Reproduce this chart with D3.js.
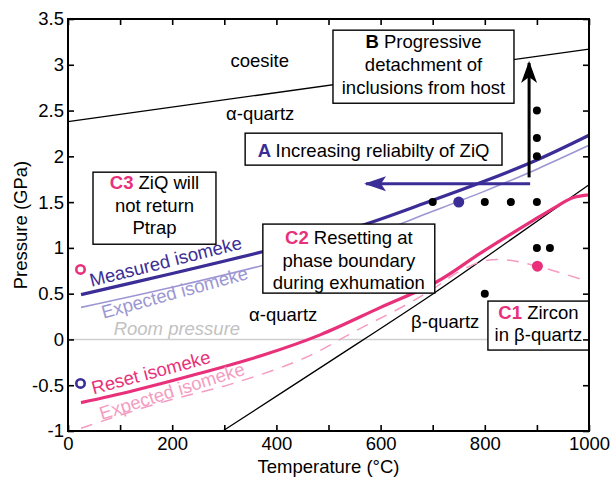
<!DOCTYPE html>
<html>
<head>
<meta charset="utf-8">
<script src="https://cdn.jsdelivr.net/npm/d3@7"></script>
<style>
  body { margin: 0; background: #fff; }
  svg { font-family: "Liberation Sans", Arial, Helvetica, sans-serif; }
</style>
</head>
<body>
<div id="chart"></div>
<script>
// phase boundaries
const coesiteT = [0, 1000];
const coesiteP = [2.38, 3.17];
const abQuartzT = [297, 500, 701, 850, 1000];
const abQuartzP = [-1, -0.25, 0.5, 1.09, 1.69];

// isomekes
const measuredT = [25, 200, 375, 550, 700, 800, 900, 1000];
const measuredP = [0.49, 0.72, 0.96, 1.22, 1.52, 1.73, 1.96, 2.23];
const expectedT = [25, 200, 375, 550, 700, 800, 900, 1000];
const expectedP = [0.35, 0.57, 0.81, 1.08, 1.40, 1.62, 1.86, 2.12];
const resetT = [25, 125, 253, 375, 484, 600, 708, 791, 893, 940, 970, 1000];
const resetP = [-0.69, -0.56, -0.37, -0.17, 0.05, 0.35, 0.63, 0.94, 1.30, 1.46, 1.55, 1.58];
const expResetT = [25, 177, 317, 455, 554, 643, 700, 750, 800, 840, 901, 1000];
const expResetP = [-0.97, -0.69, -0.48, -0.2, 0.10, 0.36, 0.55, 0.74, 0.86, 0.87, 0.80, 0.63];

// inclusion points
const dotT = [700, 800, 850, 900, 900, 900, 900, 900, 925, 800];
const dotP = [1.5, 1.5, 1.5, 1.5, 2.0, 2.2, 2.5, 1.0, 1.0, 0.5];

const xTicks = [0, 100, 200, 300, 400, 500, 600, 700, 800, 900, 1000];
const xLabels = [0, 200, 400, 600, 800, 1000];
const yTicks = [-1, -0.5, 0, 0.5, 1, 1.5, 2, 2.5, 3, 3.5];

const blue = "#3b2d96", lightBlue = "#9c97d3", pink = "#e8317a", lightPink = "#f49cc1";

const margin = {top: 19, right: 27, bottom: 46, left: 68},
      width = 616 - margin.left - margin.right,
      height = 477 - margin.top - margin.bottom;

const svg = d3.select("#chart").append("svg")
    .attr("width", 616)
    .attr("height", 477);

const g = svg.append("g")
    .attr("transform", "translate(" + margin.left + "," + margin.top + ")");

const x = d3.scaleLinear().domain([0, 1000]).range([0, width]);
const y = d3.scaleLinear().domain([-1, 3.5]).range([height, 0]);

const zip = (ts, ps) => ts.map((t, i) => [t, ps[i]]);
const line = d3.line().x(d => x(d[0])).y(d => y(d[1])).curve(d3.curveCatmullRom.alpha(0.5));

const defs = svg.append("defs");
defs.append("marker").attr("id", "headBlue")
    .attr("markerUnits", "userSpaceOnUse")
    .attr("viewBox", "-20 -8 22 16").attr("refX", 0).attr("refY", 0)
    .attr("markerWidth", 22).attr("markerHeight", 16).attr("orient", "auto")
  .append("path").attr("d", "M2,0 L-20,-7.5 L-15,0 L-20,7.5 Z").attr("fill", blue);
defs.append("marker").attr("id", "headBlack")
    .attr("markerUnits", "userSpaceOnUse")
    .attr("viewBox", "-20 -9 22 18").attr("refX", 0).attr("refY", 0)
    .attr("markerWidth", 22).attr("markerHeight", 18).attr("orient", "auto")
  .append("path").attr("d", "M2,0 L-20,-8 L-14,0 L-20,8 Z").attr("fill", "#000");

// room pressure
g.append("line")
    .attr("x1", x(0)).attr("x2", x(1000)).attr("y1", y(0)).attr("y2", y(0))
    .attr("stroke", "#cfcfcf").attr("stroke-width", 1.5);
g.append("text").attr("x", x(209)).attr("y", y(0) - 4)
    .attr("text-anchor", "middle").attr("font-style", "italic")
    .attr("font-size", 18.5).attr("fill", "#c2c2c2").text("Room pressure");

// phase boundaries
g.append("path").datum(zip(coesiteT, coesiteP)).attr("d", line)
    .attr("fill", "none").attr("stroke", "#000").attr("stroke-width", 1.3);
g.append("path").datum(zip(abQuartzT, abQuartzP)).attr("d", line)
    .attr("fill", "none").attr("stroke", "#000").attr("stroke-width", 1.3);

// isomekes
g.append("path").datum(zip(expResetT, expResetP)).attr("d", line)
    .attr("fill", "none").attr("stroke", lightPink).attr("stroke-width", 1.5)
    .attr("stroke-dasharray", "12,9");
g.append("path").datum(zip(expectedT, expectedP)).attr("d", line)
    .attr("fill", "none").attr("stroke", lightBlue).attr("stroke-width", 1.6);
g.append("path").datum(zip(measuredT, measuredP)).attr("d", line)
    .attr("fill", "none").attr("stroke", blue).attr("stroke-width", 3.2);
g.append("path").datum(zip(resetT, resetP)).attr("d", line)
    .attr("fill", "none").attr("stroke", pink).attr("stroke-width", 3.2);

// isomeke labels
const rotLabel = (t, p, ang, txt, col) => g.append("text")
    .attr("transform", "translate(" + x(t) + "," + y(p) + ") rotate(" + ang + ")")
    .attr("font-size", 18.5).attr("fill", col).text(txt);
rotLabel(45, 0.575, -14.2, "Measured isomeke", blue);
rotLabel(68, 0.225, -15.4, "Expected isomeke", lightBlue);
rotLabel(49, -0.6, -15, "Reset isomeke", pink);
rotLabel(65, -0.88, -17.6, "Expected isomeke", lightPink);

// arrows
g.append("line")
    .attr("x1", x(887)).attr("x2", x(572)).attr("y1", y(1.7)).attr("y2", y(1.7))
    .attr("stroke", blue).attr("stroke-width", 3).attr("marker-end", "url(#headBlue)");
g.append("line")
    .attr("x1", x(885)).attr("x2", x(885)).attr("y1", y(1.77)).attr("y2", y(3.02))
    .attr("stroke", "#000").attr("stroke-width", 3).attr("marker-end", "url(#headBlack)");

// points
g.selectAll(".dot").data(zip(dotT, dotP)).enter().append("circle")
    .attr("cx", d => x(d[0])).attr("cy", d => y(d[1])).attr("r", 4).attr("fill", "#000");
g.append("circle").attr("cx", x(750)).attr("cy", y(1.5)).attr("r", 5.5).attr("fill", blue);
g.append("circle").attr("cx", x(901)).attr("cy", y(0.8)).attr("r", 5.5).attr("fill", pink);
g.append("circle").attr("cx", x(24)).attr("cy", y(0.765)).attr("r", 4.2)
    .attr("fill", "#fff").attr("stroke", pink).attr("stroke-width", 2.6);
g.append("circle").attr("cx", x(24)).attr("cy", y(-0.48)).attr("r", 4.2)
    .attr("fill", "#fff").attr("stroke", blue).attr("stroke-width", 2.6);

// region labels
const plain = (t, p, txt) => g.append("text").attr("x", x(t)).attr("y", y(p))
    .attr("text-anchor", "middle").attr("font-size", 18.5).attr("fill", "#000").text(txt);
plain(368, 2.98, "coesite");
plain(369, 2.4, "α-quartz");
plain(413, 0.2, "α-quartz");
plain(724, 0.125, "β-quartz");

// boxes: [T0, T1, Ptop, Pbottom], lines with optional bold prefix
function box(b, tag, tagColor, lines, baselines) {
    const x0 = x(b[0]), x1 = x(b[1]), y0 = y(b[2]), y1 = y(b[3]);
    g.append("rect").attr("x", x0).attr("y", y0)
        .attr("width", x1 - x0).attr("height", y1 - y0)
        .attr("fill", "#fff").attr("stroke", "#000").attr("stroke-width", 1.4);
    lines.forEach(function(l, i) {
        const t = g.append("text").attr("x", (x0 + x1) / 2).attr("y", y0 + baselines[i])
            .attr("text-anchor", "middle").attr("font-size", 18.5).attr("fill", "#000");
        if (i === 0 && tag) {
            t.append("tspan").attr("font-weight", "bold").attr("fill", tagColor).text(tag + " ");
        }
        t.append("tspan").text(l);
    });
}
box([340, 833, 2.253, 1.904], "A", blue, ["Increasing reliabilty of ZiQ"], [24]);
box([508.6, 856, 3.378, 2.58], "B", "#000", ["Progressive", "detachment of", "inclusions from host"], [18, 41, 64]);
box([48, 284, 1.827, 1.04], "C3", pink, ["ZiQ will", "not return", "Ptrap"], [17, 40, 62]);
box([374, 704, 1.26, 0.506], "C2", pink, ["Resetting at", "phase boundary", "during exhumation"], [20, 43, 65]);
box([806, 1000, 0.419, -0.116], "C1", pink, ["Zircon", "in β-quartz"], [18, 40]);

// axes frame and ticks
const axisColor = "#000";
g.append("rect").attr("x", 0).attr("y", 0).attr("width", width).attr("height", height)
    .attr("fill", "none").attr("stroke", axisColor).attr("stroke-width", 2);

const axBottom = g.append("g").attr("transform", `translate(0,${height})`)
    .call(d3.axisBottom(x).tickValues(xTicks).tickSizeInner(-6).tickSizeOuter(0)
        .tickPadding(6).tickFormat(d => xLabels.includes(d) ? d : ""));
const axTop = g.append("g")
    .call(d3.axisTop(x).tickValues(xTicks).tickSizeInner(-6).tickSizeOuter(0).tickFormat(""));
const axLeft = g.append("g")
    .call(d3.axisLeft(y).tickValues(yTicks).tickSizeInner(-6).tickSizeOuter(0)
        .tickPadding(4).tickFormat(d => d));
const axRight = g.append("g").attr("transform", `translate(${width},0)`)
    .call(d3.axisRight(y).tickValues(yTicks).tickSizeInner(-6).tickSizeOuter(0).tickFormat(""));

[axBottom, axTop, axLeft, axRight].forEach(function(a) {
    a.select(".domain").remove();
    a.selectAll(".tick line").attr("stroke", axisColor).attr("stroke-width", 1.6);
    a.selectAll("text").attr("font-size", 18.5).attr("fill", "#000")
        .attr("font-family", "'Liberation Sans', Arial, sans-serif");
});

// axis titles
svg.append("text").attr("x", margin.left + width / 2).attr("y", 473)
    .attr("text-anchor", "middle").attr("font-size", 18.5).text("Temperature (°C)");
svg.append("text").attr("transform", "translate(27," + (margin.top + height / 2) + ") rotate(-90)")
    .attr("text-anchor", "middle").attr("font-size", 18.5).text("Pressure (GPa)");
</script>
</body>
</html>
